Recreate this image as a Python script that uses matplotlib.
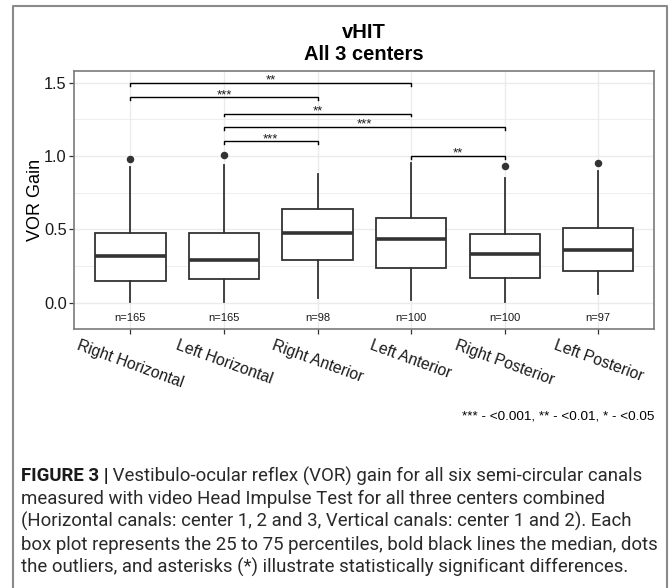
import matplotlib
matplotlib.use('Agg')
import matplotlib.pyplot as plt
from matplotlib.lines import Line2D
from matplotlib import font_manager

# ---------------- data ----------------
categories = ["Right Horizontal", "Left Horizontal", "Right Anterior",
              "Left Anterior", "Right Posterior", "Left Posterior"]
n_counts = [165, 165, 98, 100, 100, 97]
whisker_low = [0.005, 0.005, 0.03, 0.015, 0.003, 0.057]
q1 = [0.148, 0.158, 0.29, 0.234, 0.166, 0.218]
median = [0.318, 0.289, 0.473, 0.434, 0.334, 0.359]
q3 = [0.478, 0.478, 0.638, 0.58, 0.468, 0.509]
whisker_high = [0.927, 0.94, 0.877, 0.95, 0.85, 0.898]
outliers = [[0.98], [1.01], [], [], [0.93], [0.95]]

comp_left = [1, 1, 2, 2, 2, 4]
comp_right = [4, 3, 4, 5, 3, 5]
comp_label = ["**", "***", "**", "***", "***", "**"]
comp_y = [1.5, 1.4, 1.29, 1.2, 1.1, 1.0]

yticks = [0.0, 0.5, 1.0, 1.5]
ytick_labels = ["0.0", "0.5", "1.0", "1.5"]
yminor = [0.25, 0.75, 1.25]

title_lines = ["vHIT", "All 3 centers"]
ylabel = "VOR Gain"
sig_note = "*** - <0.001, ** - <0.01, * - <0.05"
caption_bold = "FIGURE 3 |"
caption_lines = [
    " Vestibulo-ocular reflex (VOR) gain for all six semi-circular canals",
    "measured with video Head Impulse Test for all three centers combined",
    "(Horizontal canals: center 1, 2 and 3, Vertical canals: center 1 and 2). Each",
    "box plot represents the 25 to 75 percentiles, bold black lines the median, dots",
    "the outliers, and asterisks (*) illustrate statistically significant differences.",
]

# ---------------- figure ----------------
plt.rcParams['font.family'] = ['Liberation Sans', 'DejaVu Sans']
W, H = 669, 588
fig = plt.figure(figsize=(W / 100, H / 100), dpi=100)
fig.patch.set_facecolor('white')

# outer frame
fig.add_artist(Line2D([13 / W, 13 / W, 667 / W, 667 / W], [0, 1 - 6 / H, 1 - 6 / H, 0],
                      transform=fig.transFigure, color='#8a8a8a', lw=1.5))

pl, pr, pt, pb = 74.3, 654.3, 71, 329
ax = fig.add_axes([pl / W, 1 - pb / H, (pr - pl) / W, (pb - pt) / H])
ax.set_facecolor('white')
ax.set_axisbelow(True)

positions = list(range(1, len(categories) + 1))
stats = []
for i in range(len(categories)):
    stats.append(dict(med=median[i], q1=q1[i], q3=q3[i], whislo=whisker_low[i],
                      whishi=whisker_high[i], fliers=outliers[i]))

dark = '#333333'
ax.bxp(stats, positions=positions, widths=0.75, showcaps=False, patch_artist=True,
       boxprops=dict(facecolor='white', edgecolor=dark, linewidth=1.3),
       medianprops=dict(color=dark, linewidth=2.6, solid_capstyle='butt'),
       whiskerprops=dict(color=dark, linewidth=1.3),
       flierprops=dict(marker='o', markerfacecolor=dark, markeredgecolor=dark,
                       markersize=4.4, linestyle='none'),
       zorder=3)

ax.set_xlim(0.4, 6.6)
ax.set_ylim(-0.18, 1.58)

ax.set_yticks(yticks)
ax.set_yticklabels(ytick_labels, fontsize=11.8, color='#1a1a1a')
ax.set_yticks(yminor, minor=True)
ax.set_xticks(positions)
ax.set_xticklabels(categories, rotation=-20, ha='center', va='top', fontsize=11.3,
                   color='#1a1a1a')
ax.tick_params(axis='both', which='major', length=3.5, width=0.9, color=dark, pad=2)
ax.tick_params(axis='y', which='minor', length=0)
ax.tick_params(axis='x', pad=3)

ax.grid(True, which='major', color='#ebebeb', linewidth=1.0)
ax.grid(True, which='minor', axis='y', color='#ebebeb', linewidth=0.6)

for s in ax.spines.values():
    s.set_color('#7a7a7a')
    s.set_linewidth(1.2)

# n labels
for p, n in zip(positions, n_counts):
    ax.text(p, -0.104, f"n={n}", ha='center', va='center', fontsize=8, color='#1a1a1a')

# significance brackets
tip = 0.02
for a, b, lab, y in zip(comp_left, comp_right, comp_label, comp_y):
    ax.plot([a, a, b, b], [y - tip, y, y, y - tip], color='black', lw=1.0,
            solid_joinstyle='miter', zorder=4)
    ax.annotate(lab, xy=((a + b) / 2, y), xytext=(0, -0.5), textcoords='offset points',
                ha='center', va='baseline', fontsize=9.5, color='#1a1a1a')

# titles and labels
cx = (pl + pr) / 2 / W
fig.text(cx, 1 - 33 / H, title_lines[0], ha='center', va='center', fontsize=14.5,
         fontweight='bold', color='black')
fig.text(cx, 1 - 55 / H, title_lines[1], ha='center', va='center', fontsize=14.5,
         fontweight='bold', color='black')
fig.text(35 / W, 1 - 200 / H, ylabel, rotation=90, ha='center', va='center',
         fontsize=13, color='black')
fig.text(655 / W, 1 - 416.7 / H, sig_note, ha='right', va='center', fontsize=9.7,
         color='black')

# caption
names = {f.name for f in font_manager.fontManager.ttflist}
if 'Liberation Sans Narrow' in names:
    cap_family = ['Liberation Sans Narrow', 'DejaVu Sans']
    cap_weight = 'normal'
else:
    cap_family = ['Roboto', 'DejaVu Sans']
    cap_weight = 'normal'
renderer = fig.canvas.get_renderer()
probe = fig.text(0, 0, caption_lines[3], fontsize=12, family=cap_family, fontweight=cap_weight)
wpx = probe.get_window_extent(renderer).width
probe.remove()
cap_size = 12 * 636 / wpx

cap_x = 21
cap_y = [476, 499, 521.5, 544.5, 567.5]
tb = fig.text(cap_x / W, 1 - cap_y[0] / H, caption_bold, ha='left', va='center',
              fontsize=cap_size, family=cap_family, fontweight='bold', color='#1a1a1a')
bw = tb.get_window_extent(renderer).width
fig.text((cap_x + bw) / W, 1 - cap_y[0] / H, caption_lines[0], ha='left', va='center',
         fontsize=cap_size, family=cap_family, fontweight=cap_weight, color='#2a2a2a')
for line, y in zip(caption_lines[1:], cap_y[1:]):
    fig.text(cap_x / W, 1 - y / H, line, ha='left', va='center', fontsize=cap_size,
             family=cap_family, fontweight=cap_weight, color='#2a2a2a')

fig.savefig('out.png', dpi=100, facecolor='white')
